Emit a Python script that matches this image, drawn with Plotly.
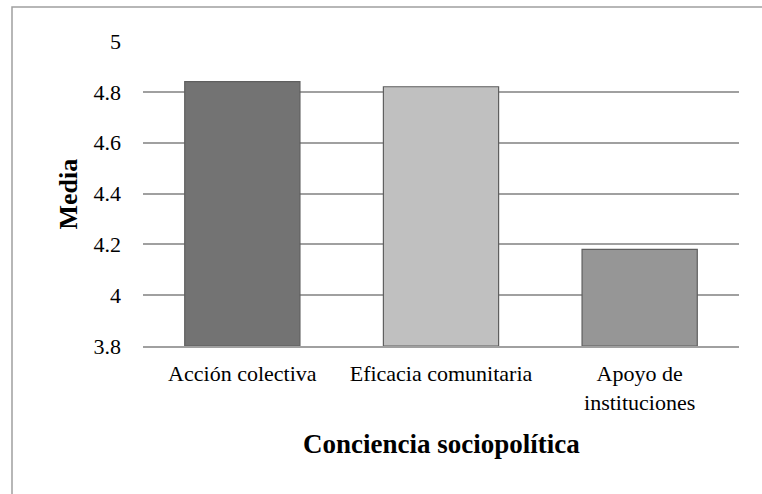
import plotly.graph_objects as go

categories = ["Acción colectiva", "Eficacia comunitaria", "Apoyo de<br>instituciones"]
values = [4.84, 4.82, 4.18]
bar_colors = ["#737373", "#c0c0c0", "#969696"]
y_base = 3.8
y_tickvals = [3.8, 4.0, 4.2, 4.4, 4.6, 4.8, 5.0]
y_ticktext = ["3.8", "4", "4.2", "4.4", "4.6", "4.8", "5"]
x_title = "Conciencia sociopolítica"
y_title = "Media"

FONT = "Liberation Serif"

fig = go.Figure()
fig.add_trace(go.Bar(
    x=categories, y=[v - y_base for v in values], base=y_base,
    marker=dict(color=bar_colors, line=dict(color="#5f5f5f", width=1.2)),
    width=0.58,
))

W, H = 762, 494
L, R, T, B = 143, 23, 41, 148
pw, ph = W - L - R, H - T - B

fig.update_layout(
    width=W, height=H,
    margin=dict(l=L, r=R, t=T, b=B, autoexpand=False),
    paper_bgcolor="white", plot_bgcolor="white",
    showlegend=False,
    font=dict(family=FONT, size=22, color="#000000"),
    xaxis=dict(
        automargin=False,
        showline=True, linecolor="#a0a0a0", linewidth=1.5,
        showgrid=False, ticks="", tickfont=dict(size=22, family=FONT, color="#000000"),
        ticklabelstandoff=7,
    ),
    yaxis=dict(
        automargin=False,
        range=[3.8, 5.0], tickvals=y_tickvals, ticktext=y_ticktext,
        showgrid=True, gridcolor="#a0a0a0", gridwidth=1.5,
        zeroline=False, showline=False, ticks="",
        tickfont=dict(size=22, family=FONT, color="#000000"), ticklabelstandoff=21,
    ),
    bargap=0.42,
    annotations=[
        dict(text=f"<b>{y_title}</b>", xref="paper", yref="paper",
             x=(68 - L) / pw, y=0.5, showarrow=False, textangle=-90,
             font=dict(size=26, family=FONT, color="#000000"), xanchor="center", yanchor="middle"),
        dict(text=f"<b>{x_title}</b>", xref="paper", yref="paper",
             x=(441 - L) / pw, y=-(444 - (T + ph)) / ph, showarrow=False,
             font=dict(size=27, family=FONT, color="#000000"), xanchor="center", yanchor="middle"),
    ],
    shapes=[
        dict(type="rect", xref="paper", yref="paper",
             x0=(12 - L) / pw, x1=(780 - L) / pw,
             y0=-(520 - (T + ph)) / ph, y1=1 + (T - 7) / ph,
             line=dict(color="#a0a0a0", width=1.5), fillcolor="rgba(0,0,0,0)", layer="below"),
    ],
)

fig.write_html("out.html", config={"displayModeBar": False},
               post_script="document.body.style.margin='0';")
